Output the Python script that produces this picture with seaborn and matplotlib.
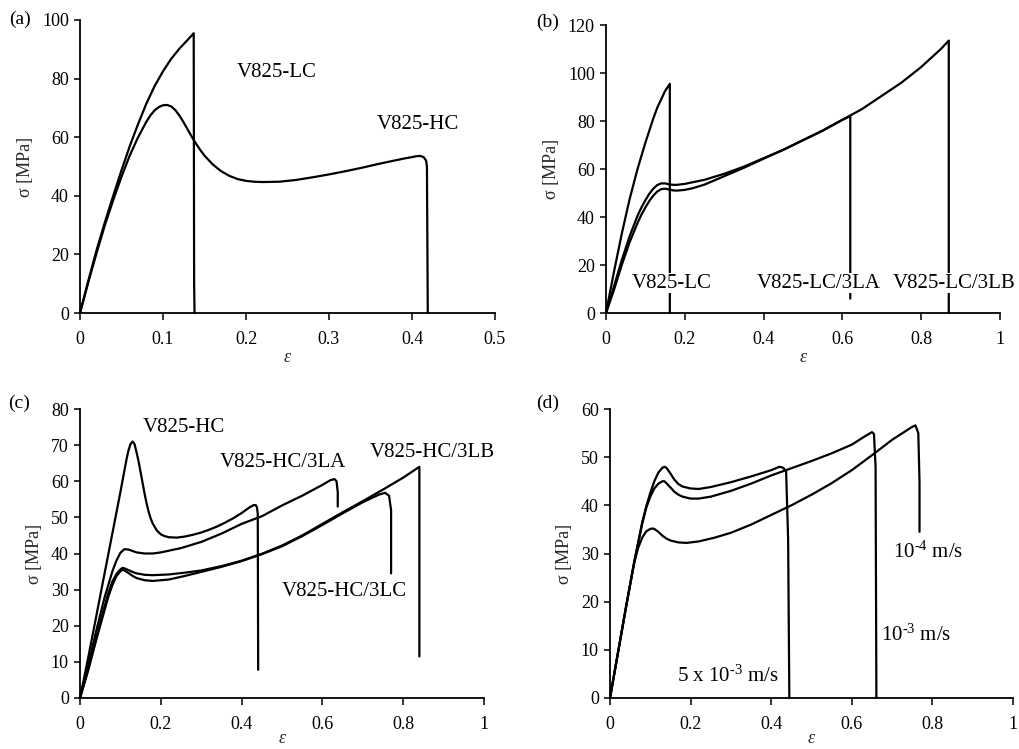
import matplotlib
matplotlib.use("Agg")
import matplotlib.pyplot as plt
import seaborn as sns
import pandas as pd

sns.set_style("ticks")
plt.rcParams['font.family'] = ['Liberation Serif', 'DejaVu Serif']
plt.rcParams['mathtext.fontset'] = 'custom'
plt.rcParams['mathtext.rm'] = 'Liberation Serif'
plt.rcParams['mathtext.it'] = 'Liberation Serif:italic'

# ---------------- panel (a) ----------------
a_lc_eps = [0, 0.01, 0.02, 0.03, 0.04, 0.05, 0.06, 0.07, 0.08, 0.09, 0.10, 0.11, 0.12, 0.13, 0.137, 0.1375, 0.138]
a_lc_sig = [0, 11, 21.5, 31, 40, 48.7, 57, 64.5, 71.5, 77.5, 82.5, 86.8, 90.3, 93.3, 95.5, 10, 0]
a_hc_eps = [0, 0.01, 0.02, 0.03, 0.04, 0.05, 0.06, 0.07, 0.08, 0.085, 0.09, 0.095, 0.10, 0.105, 0.11,
            0.115, 0.12, 0.125, 0.13, 0.135, 0.14, 0.145, 0.15, 0.16, 0.17, 0.18, 0.19, 0.20, 0.21,
            0.22, 0.24, 0.26, 0.28, 0.30, 0.32, 0.34, 0.36, 0.38, 0.39, 0.40, 0.405, 0.41, 0.414,
            0.417, 0.418, 0.419]
a_hc_sig = [0, 10.5, 20.5, 30, 38.5, 46.5, 53.8, 60, 65.3, 67.5, 69.2, 70.3, 70.9, 71, 70.5,
            69.2, 67.3, 65, 62.5, 60, 57.7, 55.6, 53.7, 50.7, 48.4, 46.8, 45.7, 45.1, 44.8,
            44.7, 44.8, 45.4, 46.3, 47.3, 48.4, 49.6, 50.9, 52.1, 52.7, 53.2, 53.5, 53.6, 53.2,
            52, 50, 0]

# ---------------- panel (b) ----------------
b_lc_eps = [0, 0.02, 0.04, 0.06, 0.08, 0.10, 0.12, 0.13, 0.14, 0.15, 0.162, 0.162]
b_lc_sig = [0, 17, 33, 47.5, 60, 71, 81, 85.5, 89, 92.5, 95.5, 0]
b_la_eps = [0, 0.02, 0.04, 0.06, 0.08, 0.09, 0.10, 0.11, 0.12, 0.13, 0.14, 0.15, 0.16, 0.17, 0.18,
            0.20, 0.25, 0.30, 0.35, 0.40, 0.45, 0.50, 0.55, 0.60, 0.62, 0.62]
b_la_sig = [0, 11, 22, 32, 40.5, 44, 47, 49.7, 51.8, 53.3, 54, 54, 53.6, 53.4, 53.4,
            53.8, 55.5, 58, 61, 64.5, 68, 72, 76, 80.5, 82, 6]
b_lb_eps = [0, 0.02, 0.04, 0.06, 0.08, 0.09, 0.10, 0.11, 0.12, 0.13, 0.14, 0.15, 0.16, 0.17, 0.18,
            0.20, 0.22, 0.25, 0.30, 0.35, 0.40, 0.45, 0.50, 0.55, 0.60, 0.65, 0.70, 0.75, 0.80,
            0.85, 0.87, 0.87]
b_lb_sig = [0, 9.5, 20, 29.5, 37.5, 41, 44, 46.7, 48.9, 50.6, 51.6, 51.8, 51.5, 51.1, 51,
            51.3, 52, 53.5, 57, 60.5, 64.3, 68, 72, 76, 80.5, 85, 90.5, 96, 102.5,
            110, 113.5, 0]

# ---------------- panel (c) ----------------
c_hc_eps = [0, 0.02, 0.04, 0.06, 0.08, 0.10, 0.11, 0.115, 0.12, 0.125, 0.13, 0.135, 0.14, 0.145,
            0.15, 0.155, 0.16, 0.165, 0.17, 0.175, 0.18, 0.19, 0.20, 0.21, 0.22, 0.24, 0.26, 0.28,
            0.30, 0.32, 0.34, 0.36, 0.38, 0.40, 0.41, 0.42, 0.43, 0.435, 0.438, 0.44, 0.441]
c_hc_sig = [0, 11, 22.5, 34, 45.5, 57, 63, 66, 68.5, 70.3, 71, 70.3, 68, 65.5,
            62.5, 59.5, 56.5, 53.8, 51.5, 49.7, 48.3, 46.4, 45.3, 44.8, 44.5, 44.4, 44.7, 45.2,
            45.8, 46.6, 47.5, 48.6, 49.8, 51.2, 52, 52.8, 53.4, 53.4, 52.8, 51, 7.8]
c_la_eps = [0, 0.02, 0.04, 0.06, 0.08, 0.09, 0.10, 0.11, 0.12, 0.13, 0.14, 0.16, 0.18, 0.20, 0.25,
            0.30, 0.35, 0.40, 0.45, 0.50, 0.55, 0.60, 0.62, 0.63, 0.635, 0.638, 0.638]
c_la_sig = [0, 9, 18.5, 27.5, 35, 38, 40.2, 41.2, 41.1, 40.7, 40.3, 40, 40, 40.3, 41.5,
            43.2, 45.5, 48.2, 50.3, 53.3, 56, 59, 60.3, 60.6, 60, 57, 53]
c_lb_eps = [0, 0.02, 0.04, 0.06, 0.07, 0.08, 0.09, 0.10, 0.105, 0.11, 0.12, 0.13, 0.14, 0.16, 0.18,
            0.22, 0.26, 0.30, 0.35, 0.40, 0.45, 0.50, 0.55, 0.60, 0.65, 0.70, 0.75, 0.80, 0.84, 0.84]
c_lb_sig = [0, 8, 16.5, 25, 29, 32.2, 34.3, 35.6, 36, 35.9, 35.4, 34.9, 34.5, 34.1, 34,
            34.2, 34.7, 35.3, 36.5, 38, 39.9, 42.2, 45, 48.2, 51.4, 54.5, 57.7, 61, 64, 11.5]
c_lc_eps = [0, 0.02, 0.04, 0.06, 0.07, 0.08, 0.09, 0.10, 0.105, 0.11, 0.12, 0.13, 0.14, 0.16, 0.18,
            0.22, 0.26, 0.30, 0.35, 0.40, 0.45, 0.50, 0.55, 0.60, 0.65, 0.70, 0.74, 0.755, 0.765,
            0.77, 0.77]
c_lc_sig = [0, 7.5, 16, 24, 28, 31.2, 33.7, 35.1, 35.5, 35.3, 34.6, 33.8, 33.2, 32.6, 32.4,
            32.8, 33.8, 34.9, 36.3, 37.9, 39.8, 42, 44.8, 47.9, 51.1, 54.2, 56.3, 56.8, 56,
            52, 34.5]

# ---------------- panel (d) ----------------
d_5e3_eps = [0, 0.02, 0.04, 0.06, 0.08, 0.09, 0.10, 0.11, 0.12, 0.13, 0.135, 0.14, 0.15, 0.16, 0.17,
             0.18, 0.20, 0.22, 0.25, 0.30, 0.35, 0.40, 0.42, 0.43, 0.437, 0.442, 0.445]
d_5e3_sig = [0, 9.5, 19, 28.2, 36.5, 39.8, 42.6, 45, 46.8, 47.8, 48, 47.8, 46.6, 45.3, 44.4,
             43.9, 43.5, 43.4, 43.8, 44.8, 46, 47.3, 48, 47.8, 47, 33, 0]
d_1e3_eps = [0, 0.02, 0.04, 0.06, 0.08, 0.09, 0.10, 0.11, 0.12, 0.13, 0.135, 0.14, 0.15, 0.16, 0.17,
             0.18, 0.20, 0.22, 0.25, 0.30, 0.35, 0.40, 0.45, 0.50, 0.55, 0.60, 0.63, 0.65, 0.655,
             0.659, 0.661]
d_1e3_sig = [0, 9.5, 19, 28.2, 36.2, 39.5, 41.8, 43.5, 44.5, 45, 45, 44.6, 43.7, 42.8, 42.2,
             41.8, 41.4, 41.4, 41.8, 43, 44.5, 46.2, 47.7, 49.2, 50.8, 52.6, 54.2, 55.2, 54.8,
             48, 0]
d_1e4_eps = [0, 0.02, 0.04, 0.06, 0.07, 0.08, 0.09, 0.10, 0.105, 0.11, 0.12, 0.13, 0.14, 0.15, 0.17,
             0.19, 0.22, 0.26, 0.30, 0.35, 0.40, 0.45, 0.50, 0.55, 0.60, 0.65, 0.70, 0.75, 0.758,
             0.765, 0.768, 0.768]
d_1e4_sig = [0, 9.5, 19, 28, 31.2, 33.3, 34.6, 35.1, 35.2, 35.1, 34.5, 33.7, 33.1, 32.7, 32.3,
             32.2, 32.5, 33.3, 34.3, 36, 38, 40, 42.2, 44.6, 47.3, 50.4, 53.6, 56.3, 56.6,
             55, 45, 34.5]

W, H = 1019, 749
fig = plt.figure(figsize=(W / 100, H / 100), dpi=100)


def make_ax(l, t, r, b):
    return fig.add_axes([l / W, 1 - b / H, (r - l) / W, (b - t) / H])


def draw(ax, curves, lw=1.6):
    for e, s in curves:
        df = pd.DataFrame({"eps": e, "sig": s})
        sns.lineplot(data=df, x="eps", y="sig", ax=ax, sort=False, estimator=None,
                     color="black", linewidth=lw, legend=False)


def style(ax, xlim, xticks, xlabels, ylim, yticks, xlabelpad=1):
    ax.set_xlim(*xlim)
    ax.set_ylim(*ylim)
    ax.set_xticks(xticks)
    ax.set_xticklabels(xlabels)
    ax.set_yticks(yticks)
    ax.set_yticklabels([str(v) for v in yticks])
    sns.despine(ax=ax)
    for sp in ["left", "bottom"]:
        ax.spines[sp].set_linewidth(1.3)
        ax.spines[sp].set_color("black")
    ax.tick_params(axis="x", direction="out", length=5, width=1.1, pad=8, labelsize=13, colors="black")
    ax.tick_params(axis="y", direction="out", length=4, width=1.1, pad=4, labelsize=13, colors="black")
    ax.set_xlabel("ε", fontsize=13, fontstyle="italic", labelpad=xlabelpad)
    ax.set_ylabel("σ [MPa]", fontsize=13, labelpad=6)
    for line in ax.lines:
        line.set_clip_on(False)


txt_kw = dict(fontsize=15, ha="left", va="center", color="black")

# (a)
ax_a = make_ax(80, 20, 495, 313)
draw(ax_a, [(a_lc_eps, a_lc_sig), (a_hc_eps, a_hc_sig)])
style(ax_a, (0, 0.5), [0, 0.1, 0.2, 0.3, 0.4, 0.5], ["0", "0.1", "0.2", "0.3", "0.4", "0.5"],
      (0, 100), [0, 20, 40, 60, 80, 100])
ax_a.text(0.189, 82, "V825-LC", **txt_kw)
ax_a.text(0.358, 64.2, "V825-HC", **txt_kw)

# (b)
ax_b = make_ax(606, 25, 1000, 313)
draw(ax_b, [(b_lc_eps, b_lc_sig), (b_la_eps, b_la_sig), (b_lb_eps, b_lb_sig)])
style(ax_b, (0, 1), [0, 0.2, 0.4, 0.6, 0.8, 1], ["0", "0.2", "0.4", "0.6", "0.8", "1"],
      (0, 120), [0, 20, 40, 60, 80, 100, 120])
bb = dict(facecolor="white", edgecolor="none", pad=0.5)
ax_b.text(0.066, 12.5, "V825-LC", bbox=bb, zorder=5, **txt_kw)
ax_b.text(0.383, 12.5, "V825-LC/3LA", bbox=bb, zorder=5, **txt_kw)
ax_b.text(0.728, 12.5, "V825-LC/3LB", bbox=bb, zorder=5, **txt_kw)

# (c)
ax_c = make_ax(80, 409, 484, 698)
draw(ax_c, [(c_hc_eps, c_hc_sig), (c_la_eps, c_la_sig), (c_lb_eps, c_lb_sig), (c_lc_eps, c_lc_sig)])
style(ax_c, (0, 1), [0, 0.2, 0.4, 0.6, 0.8, 1], ["0", "0.2", "0.4", "0.6", "0.8", "1"],
      (0, 80), [0, 10, 20, 30, 40, 50, 60, 70, 80], xlabelpad=-2)
ax_c.text(0.156, 74.8, "V825-HC", **txt_kw)
ax_c.text(0.347, 65.1, "V825-HC/3LA", **txt_kw)
ax_c.text(0.718, 67.9, "V825-HC/3LB", **txt_kw)
ax_c.text(0.50, 29.4, "V825-HC/3LC", **txt_kw)

# (d)
ax_d = make_ax(610, 409, 1013, 698)
draw(ax_d, [(d_5e3_eps, d_5e3_sig), (d_1e3_eps, d_1e3_sig), (d_1e4_eps, d_1e4_sig)])
style(ax_d, (0, 1), [0, 0.2, 0.4, 0.6, 0.8, 1], ["0", "0.2", "0.4", "0.6", "0.8", "1"],
      (0, 60), [0, 10, 20, 30, 40, 50, 60], xlabelpad=-2)
ax_d.text(0.702, 30.3, r"10$^{\text{-4}}$ m/s", **txt_kw)
ax_d.text(0.672, 13.1, r"10$^{\text{-3}}$ m/s", **txt_kw)
ax_d.text(0.166, 4.6, r"5 x 10$^{\text{-3}}$ m/s", **txt_kw)

# panel letters
lab_kw = dict(fontsize=14, ha="left", va="center", color="black")
fig.text(9 / W, 1 - 19 / H, "(a)", **lab_kw)
fig.text(536 / W, 1 - 22 / H, "(b)", **lab_kw)
fig.text(8 / W, 1 - 403 / H, "(c)", **lab_kw)
fig.text(536 / W, 1 - 403 / H, "(d)", **lab_kw)

fig.savefig("out.png", dpi=100, facecolor="white")
